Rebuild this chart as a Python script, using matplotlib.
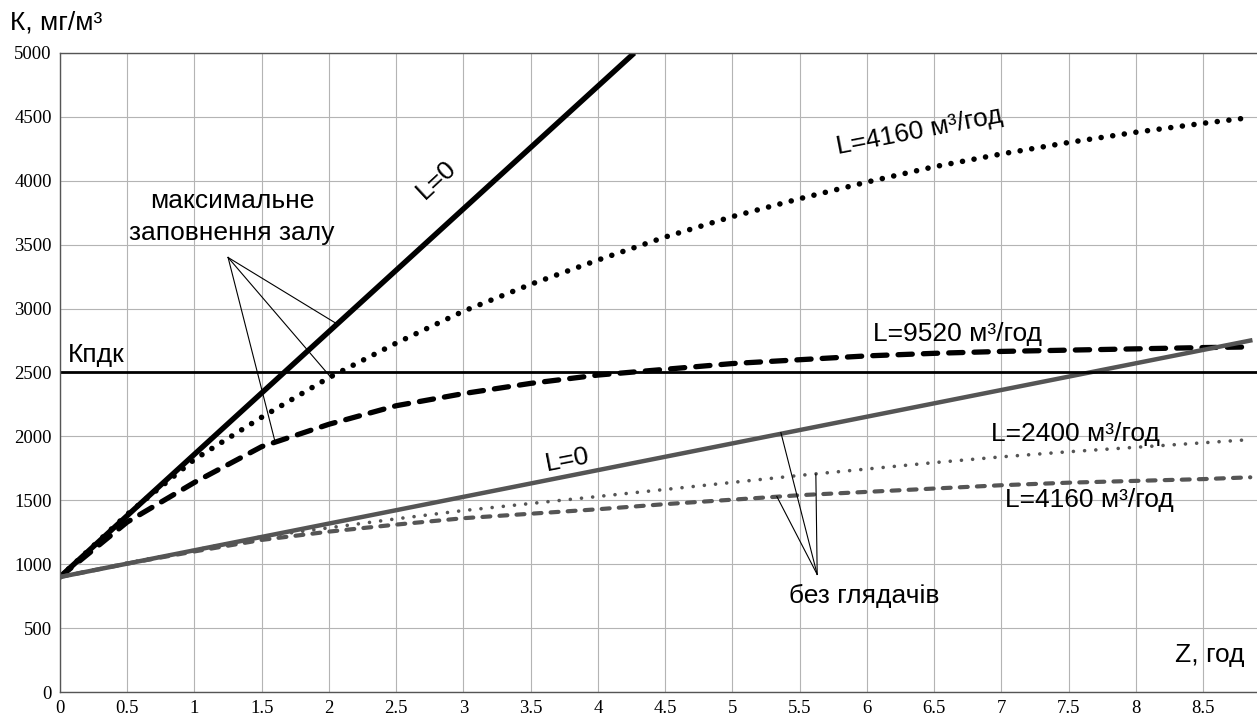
import matplotlib
matplotlib.use("Agg")
import matplotlib.pyplot as plt

# time axis, hours
z = [0, 0.5, 1, 1.5, 2, 2.5, 3, 3.5, 4, 4.5, 5, 5.5, 6, 6.5, 7, 7.5, 8, 8.5, 8.85]

# full hall
k_full_l0_z = [0, 4.27]
k_full_l0 = [900, 5000]
k_full_l4160 = [900, 1390, 1820, 2150, 2460, 2730, 2980, 3190, 3380, 3560,
                3720, 3860, 3990, 4110, 4210, 4300, 4380, 4450, 4495]
k_full_l9520 = [900, 1330, 1640, 1920, 2095, 2240, 2335, 2415, 2480, 2525,
                2570, 2600, 2630, 2650, 2665, 2675, 2685, 2695, 2700]

# empty hall
k_empty_l0_z = [0, 8.85]
k_empty_l0 = [900, 2750]
k_empty_l2400 = [900, 1010, 1110, 1215, 1285, 1355, 1420, 1475, 1530, 1585,
                 1640, 1695, 1745, 1795, 1840, 1880, 1915, 1950, 1975]
k_empty_l4160 = [900, 1005, 1100, 1190, 1255, 1310, 1360, 1395, 1430, 1470,
                 1505, 1540, 1566, 1592, 1618, 1638, 1652, 1666, 1680]

k_pdk = 2500

x_ticks = [0, 0.5, 1, 1.5, 2, 2.5, 3, 3.5, 4, 4.5, 5, 5.5, 6, 6.5, 7, 7.5, 8, 8.5]
x_tick_labels = ["0", "0.5", "1", "1.5", "2", "2.5", "3", "3.5", "4", "4.5",
                 "5", "5.5", "6", "6.5", "7", "7.5", "8", "8.5"]
y_ticks = [0, 500, 1000, 1500, 2000, 2500, 3000, 3500, 4000, 4500, 5000]

plt.rcParams['font.family'] = ['Liberation Sans', 'DejaVu Sans']

fig = plt.figure(figsize=(12.57, 7.16), dpi=100)
ax = fig.add_axes([0.0477, 0.0335, 0.9523, 0.8925])

grey = '#555555'
fs = 19

ax.plot(k_full_l0_z, k_full_l0, color='black', lw=3.9, solid_capstyle='butt')
ax.plot(z, k_full_l4160, color='black', lw=4.0, dashes=(0.01, 2.1),
        dash_capstyle='round')
ax.plot(z, k_full_l9520, color='black', lw=3.8, dashes=(2.7, 2.1),
        dash_capstyle='round')

ax.plot(k_empty_l0_z, k_empty_l0, color=grey, lw=3.2)
ax.plot(z, k_empty_l2400, color=grey, lw=2.6, dashes=(0.01, 3.1),
        dash_capstyle='round')
ax.plot(z, k_empty_l4160, color=grey, lw=3.0, dashes=(1.9, 2.2),
        dash_capstyle='round')

ax.axhline(k_pdk, color='black', lw=2.0)

# pointer lines
for xe, ye in [(2.06, 2880), (2.02, 2455), (1.60, 1955)]:
    ax.plot([1.25, xe], [3400, ye], color='black', lw=0.8)
for xe, ye in [(5.36, 2030), (5.62, 1705), (5.33, 1530)]:
    ax.plot([5.63, xe], [920, ye], color='black', lw=0.8)

ax.text(1.28, 3840, "максимальне", fontsize=fs, ha='center', va='center')
ax.text(1.28, 3590, "заповнення залу", fontsize=fs, ha='center', va='center')
ax.text(2.8, 4010, "L=0", fontsize=fs, ha='center', va='center', rotation=43)
ax.text(6.39, 4390, "L=4160 м³/год", fontsize=fs, ha='center', va='center',
        rotation=11)
ax.text(6.67, 2800, "L=9520 м³/год", fontsize=fs, ha='center', va='center')
ax.text(7.55, 2016, "L=2400 м³/год", fontsize=fs, ha='center', va='center')
ax.text(7.65, 1500, "L=4160 м³/год", fontsize=fs, ha='center', va='center')
ax.text(3.77, 1820, "L=0", fontsize=fs, ha='center', va='center', rotation=11)
ax.text(5.98, 750, "без глядачів", fontsize=fs, ha='center', va='center')
ax.text(8.55, 290, "Z, год", fontsize=fs, ha='center', va='center')
ax.text(0.06, 2540, "Кпдк", fontsize=fs, ha='left', va='bottom')
fig.text(0.008, 0.968, "К, мг/м³", fontsize=fs, ha='left', va='center')

ax.set_xlim(0, 8.9)
ax.set_ylim(0, 5000)
ax.set_xticks(x_ticks)
ax.set_xticklabels(x_tick_labels)
ax.set_yticks(y_ticks)
ax.tick_params(length=0, labelsize=13.5, pad=6)
for lbl in ax.get_xticklabels() + ax.get_yticklabels():
    lbl.set_family('Liberation Serif')

ax.grid(True, color='#b4b4b4', lw=0.8)
ax.set_axisbelow(True)
ax.spines['right'].set_visible(False)
for s in ['left', 'bottom', 'top']:
    ax.spines[s].set_color('#555555')
    ax.spines[s].set_linewidth(1.0)

fig.savefig("out.png", dpi=100)
